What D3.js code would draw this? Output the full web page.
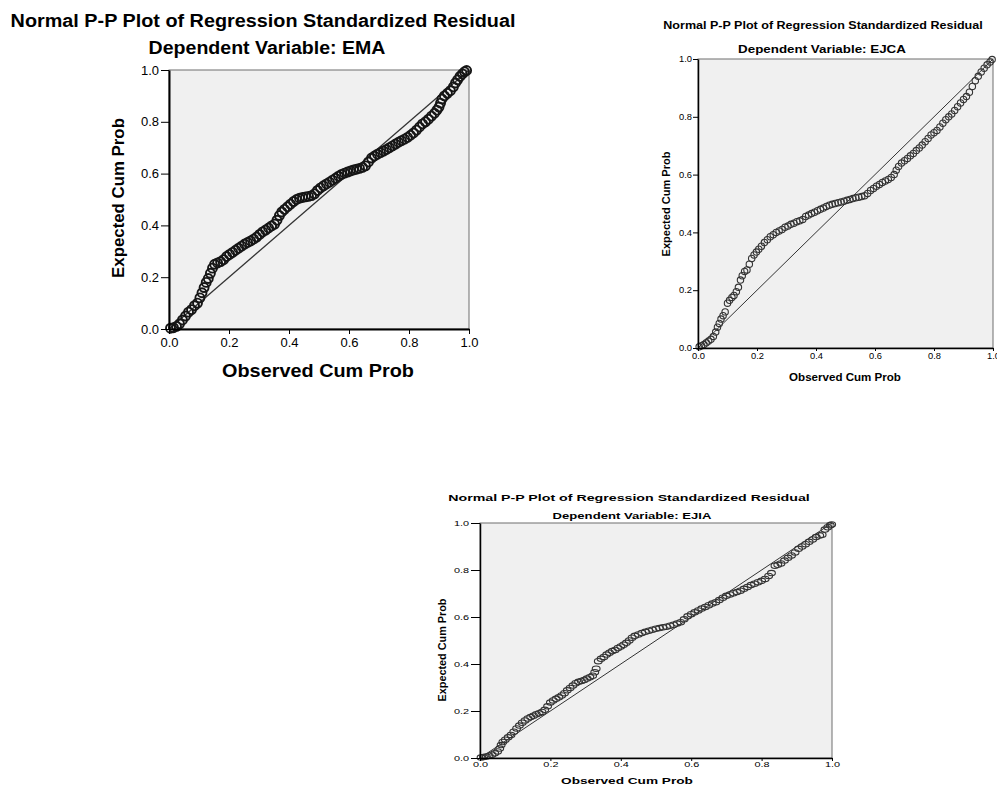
<!DOCTYPE html>
<html>
<head>
<meta charset="utf-8">
<script src="https://cdn.jsdelivr.net/npm/d3@7"></script>
<style>
  body { margin: 0; background: #fff; }
  svg text { font-family: "Liberation Sans", Arial, sans-serif; fill: #000; }
</style>
</head>
<body>
<div id="chart"></div>
<script>
// tick values and titles
const tickValues = [0, 0.2, 0.4, 0.6, 0.8, 1.0];
const mainTitle = "Normal P-P Plot of Regression Standardized Residual";
const xTitle = "Observed Cum Prob";
const yTitle = "Expected Cum Prob";
const depVars = ["EMA", "EJCA", "EJIA"];

// [observed cum prob, expected cum prob]
const emaPoints = [
  [0.005, 0.003], [0.015, 0.005], [0.025, 0.01], [0.035, 0.02], [0.045, 0.035], [0.055, 0.05],
  [0.065, 0.065], [0.075, 0.075], [0.085, 0.09], [0.095, 0.1], [0.103, 0.12], [0.11, 0.14],
  [0.117, 0.16], [0.124, 0.18], [0.131, 0.195], [0.138, 0.215], [0.145, 0.235], [0.152, 0.25],
  [0.162, 0.255], [0.172, 0.26], [0.182, 0.268], [0.192, 0.28], [0.202, 0.288], [0.212, 0.296],
  [0.222, 0.304], [0.232, 0.312], [0.242, 0.32], [0.252, 0.328], [0.262, 0.334], [0.272, 0.34],
  [0.282, 0.347], [0.292, 0.355], [0.302, 0.365], [0.312, 0.375], [0.322, 0.382], [0.332, 0.39],
  [0.342, 0.398], [0.352, 0.405], [0.36, 0.42], [0.368, 0.438], [0.376, 0.452], [0.385, 0.462],
  [0.395, 0.472], [0.405, 0.482], [0.415, 0.492], [0.425, 0.5], [0.435, 0.505], [0.445, 0.508],
  [0.455, 0.51], [0.465, 0.512], [0.475, 0.515], [0.485, 0.522], [0.495, 0.535], [0.505, 0.545],
  [0.515, 0.553], [0.525, 0.56], [0.535, 0.567], [0.545, 0.575], [0.555, 0.582], [0.565, 0.59],
  [0.575, 0.597], [0.585, 0.602], [0.595, 0.606], [0.605, 0.61], [0.615, 0.614], [0.625, 0.617],
  [0.635, 0.62], [0.645, 0.624], [0.655, 0.63], [0.665, 0.645], [0.675, 0.66], [0.685, 0.668],
  [0.695, 0.675], [0.705, 0.681], [0.715, 0.687], [0.725, 0.693], [0.735, 0.7], [0.745, 0.707],
  [0.755, 0.714], [0.765, 0.721], [0.775, 0.727], [0.785, 0.733], [0.795, 0.74], [0.805, 0.748],
  [0.815, 0.757], [0.825, 0.768], [0.835, 0.78], [0.845, 0.792], [0.855, 0.8], [0.865, 0.81],
  [0.875, 0.822], [0.885, 0.833], [0.893, 0.845], [0.9, 0.857], [0.905, 0.872], [0.91, 0.888],
  [0.918, 0.9], [0.928, 0.91], [0.938, 0.92], [0.948, 0.935], [0.955, 0.95], [0.962, 0.962],
  [0.97, 0.975], [0.978, 0.985], [0.985, 0.993], [0.992, 0.998]
];

const ejcaPoints = [
  [0.004, 0.004], [0.012, 0.008], [0.02, 0.012], [0.028, 0.018], [0.036, 0.024], [0.044, 0.03],
  [0.052, 0.04], [0.06, 0.055], [0.066, 0.072], [0.072, 0.085], [0.078, 0.1], [0.085, 0.112],
  [0.092, 0.125], [0.1, 0.155], [0.107, 0.165], [0.115, 0.175], [0.122, 0.182], [0.13, 0.195],
  [0.137, 0.21], [0.144, 0.235], [0.15, 0.25], [0.158, 0.265], [0.166, 0.27], [0.174, 0.29],
  [0.182, 0.31], [0.19, 0.322], [0.198, 0.332], [0.206, 0.342], [0.215, 0.352], [0.225, 0.365],
  [0.235, 0.375], [0.245, 0.385], [0.255, 0.392], [0.265, 0.4], [0.275, 0.405], [0.285, 0.41],
  [0.295, 0.418], [0.305, 0.422], [0.315, 0.428], [0.325, 0.432], [0.335, 0.437], [0.345, 0.44],
  [0.355, 0.445], [0.365, 0.455], [0.375, 0.46], [0.385, 0.465], [0.395, 0.47], [0.405, 0.475],
  [0.415, 0.48], [0.425, 0.484], [0.435, 0.49], [0.445, 0.494], [0.455, 0.497], [0.465, 0.5],
  [0.475, 0.503], [0.485, 0.505], [0.495, 0.508], [0.505, 0.511], [0.515, 0.514], [0.525, 0.517],
  [0.535, 0.52], [0.545, 0.522], [0.555, 0.524], [0.565, 0.527], [0.575, 0.535], [0.585, 0.545],
  [0.595, 0.552], [0.605, 0.56], [0.615, 0.566], [0.625, 0.573], [0.635, 0.578], [0.645, 0.583],
  [0.655, 0.59], [0.665, 0.6], [0.672, 0.615], [0.68, 0.628], [0.69, 0.64], [0.7, 0.648],
  [0.71, 0.656], [0.72, 0.665], [0.73, 0.673], [0.74, 0.683], [0.75, 0.692], [0.76, 0.702],
  [0.77, 0.714], [0.78, 0.725], [0.79, 0.737], [0.8, 0.745], [0.81, 0.753], [0.82, 0.765],
  [0.83, 0.778], [0.84, 0.79], [0.85, 0.8], [0.86, 0.81], [0.87, 0.822], [0.88, 0.835],
  [0.89, 0.848], [0.9, 0.86], [0.91, 0.87], [0.92, 0.885], [0.93, 0.905], [0.94, 0.925],
  [0.95, 0.94], [0.96, 0.955], [0.97, 0.968], [0.98, 0.98], [0.99, 0.99], [0.997, 0.998]
];

const ejiaPoints = [
  [0.003, 0.002], [0.01, 0.004], [0.018, 0.006], [0.026, 0.01], [0.034, 0.014], [0.042, 0.02],
  [0.05, 0.028], [0.056, 0.04], [0.06, 0.055], [0.065, 0.068], [0.072, 0.078], [0.08, 0.088],
  [0.088, 0.098], [0.096, 0.112], [0.104, 0.126], [0.112, 0.138], [0.12, 0.15], [0.128, 0.16],
  [0.136, 0.168], [0.144, 0.174], [0.152, 0.18], [0.16, 0.186], [0.168, 0.19], [0.176, 0.196],
  [0.184, 0.205], [0.192, 0.22], [0.2, 0.236], [0.208, 0.245], [0.216, 0.252], [0.224, 0.258],
  [0.232, 0.266], [0.24, 0.276], [0.248, 0.288], [0.256, 0.298], [0.264, 0.308], [0.272, 0.318],
  [0.28, 0.324], [0.288, 0.328], [0.296, 0.332], [0.304, 0.338], [0.312, 0.344], [0.32, 0.35],
  [0.326, 0.365], [0.33, 0.38], [0.336, 0.412], [0.344, 0.422], [0.352, 0.43], [0.36, 0.44],
  [0.368, 0.448], [0.376, 0.455], [0.384, 0.46], [0.392, 0.468], [0.4, 0.475], [0.408, 0.482],
  [0.416, 0.49], [0.424, 0.5], [0.432, 0.512], [0.44, 0.52], [0.45, 0.526], [0.46, 0.532],
  [0.47, 0.537], [0.48, 0.542], [0.49, 0.546], [0.5, 0.55], [0.51, 0.553], [0.52, 0.556],
  [0.53, 0.559], [0.54, 0.563], [0.55, 0.567], [0.56, 0.572], [0.57, 0.578], [0.58, 0.59],
  [0.59, 0.603], [0.6, 0.612], [0.61, 0.62], [0.62, 0.628], [0.63, 0.636], [0.64, 0.643],
  [0.65, 0.65], [0.66, 0.657], [0.67, 0.663], [0.68, 0.672], [0.69, 0.682], [0.7, 0.69],
  [0.71, 0.696], [0.72, 0.701], [0.73, 0.706], [0.74, 0.712], [0.75, 0.72], [0.76, 0.728],
  [0.77, 0.736], [0.78, 0.742], [0.79, 0.748], [0.8, 0.754], [0.81, 0.762], [0.82, 0.775],
  [0.828, 0.787], [0.838, 0.818], [0.846, 0.822], [0.855, 0.828], [0.865, 0.84], [0.875, 0.852],
  [0.885, 0.862], [0.895, 0.875], [0.905, 0.89], [0.915, 0.9], [0.925, 0.91], [0.935, 0.92],
  [0.945, 0.93], [0.955, 0.94], [0.965, 0.947], [0.972, 0.95], [0.98, 0.972], [0.988, 0.982],
  [0.995, 0.99], [0.999, 0.994]
];

const w = 997;
const h = 787;

// layout of each of the three SPSS panels
const panels = [
  { left: 169, right: 469, top: 70, bottom: 329,
    title: { x: 263, y: 27, size: 19, width: 505 },
    sub: { x: 267, y: 54, size: 19, width: 237 },
    xlab: { x: 318, y: 377, size: 19, width: 192 },
    ylab: { x: 124, y: 198, size: 17, width: 160 },
    tickFont: 13, tickStretch: 1.0, yTick: 8, yPad: 2, xTick: 5, xPad: 4,
    rx: 4.5, ry: 4.5, dotColor: "#161616", dotW: 1.9, lineW: 1.3, axisW: 2 },
  { left: 698, right: 993, top: 59, bottom: 348,
    title: { x: 823, y: 29, size: 10, width: 320 },
    sub: { x: 822, y: 53, size: 10, width: 168 },
    xlab: { x: 845, y: 381, size: 11, width: 112 },
    ylab: { x: 670, y: 204, size: 11, width: 105 },
    tickFont: 8.5, tickStretch: 1.1, yTick: 5, yPad: 1, xTick: 3, xPad: 2,
    rx: 3.2, ry: 3.2, dotColor: "#333", dotW: 1.1, lineW: 1, axisW: 1.5 },
  { left: 480, right: 832, top: 523, bottom: 758,
    title: { x: 629, y: 501, size: 9, width: 362 },
    sub: { x: 632, y: 519, size: 9, width: 159 },
    xlab: { x: 627, y: 784, size: 9.5, width: 132 },
    ylab: { x: 446, y: 650, size: 10.5, width: 103 },
    tickFont: 7.5, tickStretch: 1.45, yTick: 9, yPad: 2, xTick: 3, xPad: 1,
    rx: 3.9, ry: 2.7, dotColor: "#333", dotW: 1.1, lineW: 1, axisW: 1.5 }
];

const svg = d3.select("#chart")
    .append("svg")
    .attr("width", w)
    .attr("height", h);

// bold label squeezed/stretched to the width seen in the picture
function addLabel(g, txt, spec, rotate) {
    const t = g.append("text")
        .attr("text-anchor", "middle")
        .style("font-size", spec.size + "px")
        .style("font-weight", "bold")
        .text(txt);
    const s = spec.width / t.node().getComputedTextLength();
    t.attr("transform", "translate(" + spec.x + "," + spec.y + ")" + (rotate ? " rotate(-90)" : "") + " scale(" + s + ",1)");
}

function drawPanel(p, points, dep) {
    const g = svg.append("g");

    const xScale = d3.scaleLinear().domain([0, 1]).range([p.left, p.right]);
    const yScale = d3.scaleLinear().domain([0, 1]).range([p.bottom, p.top]);

    g.append("rect")
        .attr("x", p.left)
        .attr("y", p.top)
        .attr("width", p.right - p.left)
        .attr("height", p.bottom - p.top)
        .attr("fill", "#f0f0f0")
        .attr("stroke", "#6e6e6e")
        .attr("stroke-width", 1);

    // reference diagonal
    g.append("line")
        .attr("x1", xScale(0)).attr("y1", yScale(0))
        .attr("x2", xScale(1)).attr("y2", yScale(1))
        .attr("stroke", "#333")
        .attr("stroke-width", p.lineW);

    g.selectAll("ellipse")
        .data(points)
        .enter()
        .append("ellipse")
        .attr("cx", (d) => xScale(d[0]))
        .attr("cy", (d) => yScale(d[1]))
        .attr("rx", p.rx)
        .attr("ry", p.ry)
        .attr("fill", "none")
        .attr("stroke", p.dotColor)
        .attr("stroke-width", p.dotW);

    const fmt = d3.format(".1f");
    const yAxis = d3.axisLeft(yScale).tickValues(tickValues).tickFormat(fmt)
        .tickSizeInner(p.yTick).tickSizeOuter(0).tickPadding(p.yPad);
    const xAxis = d3.axisBottom(xScale).tickValues(tickValues).tickFormat(fmt)
        .tickSizeInner(p.xTick).tickSizeOuter(0).tickPadding(p.xPad);

    const gy = g.append("g")
        .attr("transform", "translate(" + p.left + ",0)")
        .call(yAxis);
    const gx = g.append("g")
        .attr("transform", "translate(0," + p.bottom + ")")
        .call(xAxis);

    [gy, gx].forEach((a) => {
        a.select(".domain").attr("stroke", "#000").attr("stroke-width", p.axisW);
        a.selectAll(".tick line").attr("stroke", "#000");
        a.selectAll(".tick text").style("font-size", p.tickFont + "px").attr("fill", "#000");
    });
    gx.selectAll(".tick text").attr("transform", "scale(" + p.tickStretch + ",1)");
    gy.selectAll(".tick text")
        .attr("x", -(p.yTick + p.yPad) / p.tickStretch)
        .attr("transform", "scale(" + p.tickStretch + ",1)");

    addLabel(g, mainTitle, p.title, false);
    addLabel(g, "Dependent Variable: " + dep, p.sub, false);
    addLabel(g, xTitle, p.xlab, false);
    addLabel(g, yTitle, p.ylab, true);
}

drawPanel(panels[0], emaPoints, depVars[0]);
drawPanel(panels[1], ejcaPoints, depVars[1]);
drawPanel(panels[2], ejiaPoints, depVars[2]);
</script>
</body>
</html>
